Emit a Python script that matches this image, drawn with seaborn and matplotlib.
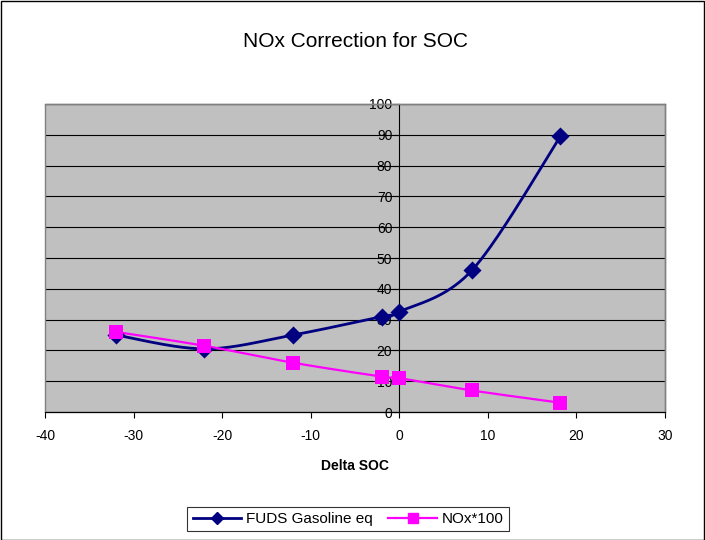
import numpy as np
import pandas as pd
import matplotlib
matplotlib.use("Agg")
import matplotlib.pyplot as plt
from matplotlib.lines import Line2D
from matplotlib.patches import Rectangle
import seaborn as sns

# ---- data ----
delta_soc = [-32, -22, -12, -2, 0, 8.2, 18.2]
fuds_gas_eq = [25, 20.5, 25, 31, 32.5, 46, 89.5]
nox_x100 = [26, 21.5, 16, 11.5, 11, 7, 3]
series_names = ["FUDS Gasoline eq", "NOx*100"]
x_ticks = [-40, -30, -20, -10, 0, 10, 20, 30]
y_ticks = [0, 10, 20, 30, 40, 50, 60, 70, 80, 90, 100]

NAVY = "#000080"
MAGENTA = "#FF00FF"


def excel_smooth(xs, ys, n=40):
    """Excel-style smoothed line: cubic Bezier segments, control points from neighbours."""
    xs = np.asarray(xs, float)
    ys = np.asarray(ys, float)
    P = np.column_stack([xs, ys])
    m = len(P)
    out = []
    for i in range(m - 1):
        p0 = P[i - 1] if i > 0 else P[i]
        p1 = P[i]
        p2 = P[i + 1]
        p3 = P[i + 2] if i + 2 < m else P[i + 1]
        c1 = p1 + (p2 - p0) / 6.0
        c2 = p2 - (p3 - p1) / 6.0
        t = np.linspace(0, 1, n)[:, None]
        seg = ((1 - t) ** 3) * p1 + 3 * ((1 - t) ** 2) * t * c1 + 3 * (1 - t) * t ** 2 * c2 + t ** 3 * p2
        out.append(seg if i == 0 else seg[1:])
    pts = np.vstack(out)
    return pts[:, 0], pts[:, 1]


plt.rcParams["font.family"] = ["Liberation Sans", "DejaVu Sans"]

fig = plt.figure(figsize=(7.05, 5.4), dpi=100)
fig.patch.set_facecolor("white")
ax = fig.add_axes([45 / 705, 1 - 412 / 540, (665 - 45) / 705, (412 - 104) / 540])
ax.set_facecolor("#C0C0C0")

# smoothed lines
for ys, col, lw in [(fuds_gas_eq, NAVY, 2.0), (nox_x100, MAGENTA, 1.6)]:
    sx, sy = excel_smooth(delta_soc, ys)
    sns.lineplot(x=sx, y=sy, sort=False, color=col, linewidth=lw, ax=ax, zorder=3)

# markers
df = pd.DataFrame({"x": delta_soc, "fuds": fuds_gas_eq, "nox": nox_x100})
sns.scatterplot(data=df, x="x", y="fuds", marker="D", s=85, color=NAVY,
                edgecolor=NAVY, linewidth=0, ax=ax, zorder=4)
sns.scatterplot(data=df, x="x", y="nox", marker="s", s=110, color=MAGENTA,
                edgecolor=MAGENTA, linewidth=0, ax=ax, zorder=5)

ax.set_xlim(-40, 30)
ax.set_ylim(0, 100)
ax.set_xticks(x_ticks)
ax.set_yticks(y_ticks)
ax.set_xticklabels([str(v) for v in x_ticks], fontsize=10)
ax.set_yticklabels([str(v) for v in y_ticks], fontsize=10)

# horizontal grid
ax.yaxis.grid(True, color="black", linewidth=0.8)
ax.xaxis.grid(False)
ax.set_axisbelow(True)

# axes positioning like Excel: y axis crosses at x=0
ax.spines["left"].set_position(("data", 0))
ax.spines["left"].set_color("black")
ax.spines["left"].set_linewidth(0.8)
ax.spines["left"].set_zorder(2)
ax.spines["bottom"].set_color("black")
ax.spines["bottom"].set_linewidth(0.8)
for s in ["top", "right"]:
    ax.spines[s].set_color("#808080")
    ax.spines[s].set_linewidth(1.0)
ax.add_patch(Rectangle((0, 0), 1, 1, transform=ax.transAxes, fill=False,
                       edgecolor="#808080", linewidth=1.0, zorder=1, clip_on=False))

ax.tick_params(axis="y", direction="out", length=4, width=0.8, pad=1, colors="black")
ax.tick_params(axis="x", direction="out", length=4, width=0.8, pad=8, colors="black")

ax.set_xlabel("Delta SOC", fontsize=10, fontweight="bold", labelpad=12)
ax.set_ylabel("")

fig.text(356 / 705, 1 - 42 / 540, "NOx Correction for SOC", ha="center", va="center", fontsize=15)

handles = [
    Line2D([0], [0], color=NAVY, lw=2.0, marker="D", markersize=6),
    Line2D([0], [0], color=MAGENTA, lw=1.6, marker="s", markersize=7),
]
leg = fig.legend(handles, series_names, loc="center", bbox_to_anchor=(348 / 705, 1 - 519 / 540),
                 ncol=2, fancybox=False, frameon=True, edgecolor="black", fontsize=11,
                 handlelength=3.2, columnspacing=1.0, handletextpad=0.3, borderpad=0.35)
leg.get_frame().set_linewidth(0.8)

fig.add_artist(Rectangle((0.5 / 705, 0.5 / 540), 703.5 / 705, 539 / 540, transform=fig.transFigure,
                         fill=False, edgecolor="black", linewidth=1.0))

fig.savefig("out.png", dpi=100)
